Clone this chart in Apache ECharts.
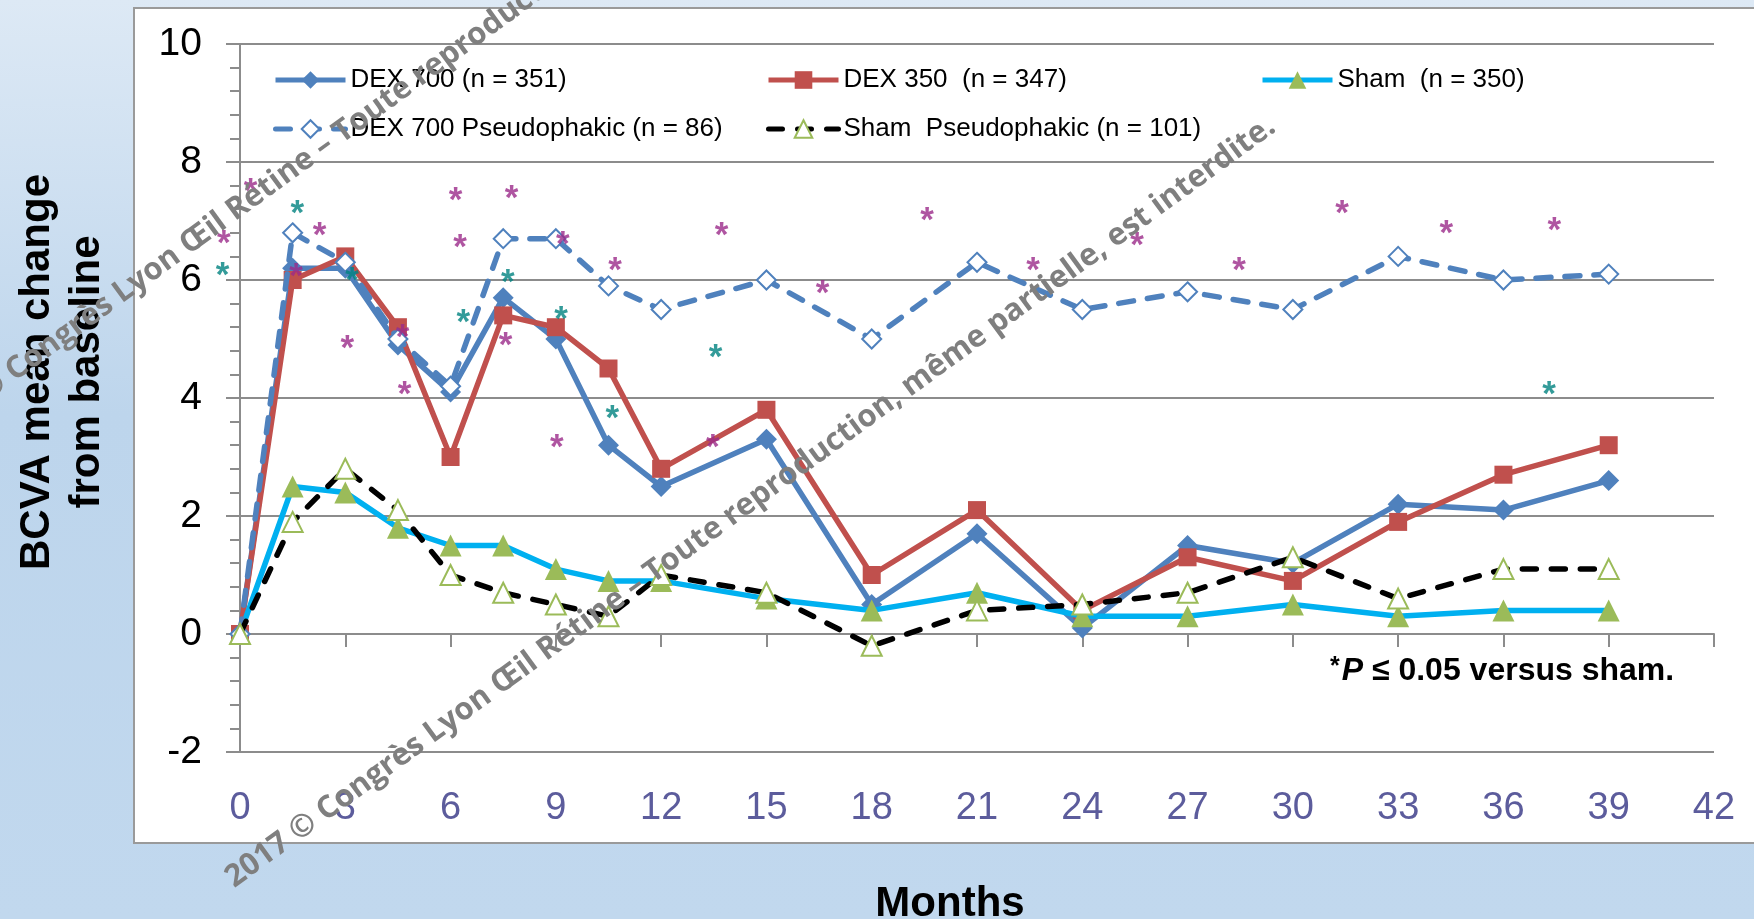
<!DOCTYPE html>
<html>
<head>
<meta charset="utf-8">
<script src="https://cdn.jsdelivr.net/npm/echarts@6/dist/echarts.min.js"></script>
<style>
html,body{margin:0;padding:0;}
#chart{width:1754px;height:919px;}
</style>
</head>
<body>
<div id="chart"></div>
<script>
// ---- data ----
const months = [0, 1.5, 3, 4.5, 6, 7.5, 9, 10.5, 12, 15, 18, 21, 24, 27, 30, 33, 36, 39];
const dex700 = [0, 6.2, 6.2, 4.9, 4.1, 5.7, 5.0, 3.2, 2.5, 3.3, 0.5, 1.7, 0.1, 1.5, 1.2, 2.2, 2.1, 2.6];
const dex350 = [0, 6.0, 6.4, 5.2, 3.0, 5.4, 5.2, 4.5, 2.8, 3.8, 1.0, 2.1, 0.4, 1.3, 0.9, 1.9, 2.7, 3.2];
const sham = [0, 2.5, 2.4, 1.8, 1.5, 1.5, 1.1, 0.9, 0.9, 0.6, 0.4, 0.7, 0.3, 0.3, 0.5, 0.3, 0.4, 0.4];
const dex700Pseudo = [0, 6.8, 6.3, 5.0, 4.2, 6.7, 6.7, 5.9, 5.5, 6.0, 5.0, 6.3, 5.5, 5.8, 5.5, 6.4, 6.0, 6.1];
const shamPseudo = [0, 1.9, 2.8, 2.1, 1.0, 0.7, 0.5, 0.3, 1.0, 0.7, -0.2, 0.4, 0.5, 0.7, 1.3, 0.6, 1.1, 1.1];
const starsMagenta = [[-0.46, 6.71], [0.3, 7.58], [1.6, 6.14], [2.27, 6.85], [3.06, 4.93], [4.63, 5.12], [4.69, 4.14],
  [6.14, 7.44], [6.27, 6.63], [7.74, 7.47], [7.57, 4.98], [9.2, 6.69], [9.03, 3.25], [10.69, 6.24], [13.72, 6.85],
  [13.47, 3.25], [16.6, 5.86], [19.58, 7.1], [22.6, 6.24], [25.56, 6.68], [28.47, 6.24], [31.4, 7.22], [34.37, 6.88], [37.45, 6.92]];
const starsTeal = [[-0.5, 6.17], [1.63, 7.22], [3.19, 6.08], [6.36, 5.36], [7.63, 6.05], [9.15, 5.41], [10.61, 3.74], [13.55, 4.78], [37.3, 4.15]];
const seriesNames = ['DEX 700 (n = 351)', 'DEX 350  (n = 347)', 'Sham  (n = 350)', 'DEX 700 Pseudophakic (n = 86)', 'Sham  Pseudophakic (n = 101)'];
const yTitle = 'BCVA mean change\nfrom baseline';
const xTitle = 'Months';
const footnote = ['*', 'P', ' ≤ 0.05 versus sham.'];
const watermark = '2017 © Congrès Lyon Œil Rétine – Toute reproduction, même partielle, est interdite.';

const pair = arr => months.map((m, i) => [m, arr[i]]);
const FONT = '"Liberation Sans", Arial, sans-serif';
const GRAY = '#8c8c8c';

const chart = echarts.init(document.getElementById('chart'), null, {renderer: 'canvas'});

function legendAt(name, left, top) {
  return {
    data: [name], left: left, top: top, padding: 0, itemWidth: 70, itemHeight: 22,
    selectedMode: false,
    lineStyle: {width: 5, color: 'inherit', type: 'inherit'},
    textStyle: {fontSize: 26, color: '#000', fontFamily: FONT, padding: [0, 0, 0, 0]}
  };
}

const starLabel = (color) => ({
  show: true, formatter: '*', position: 'inside', color: color,
  fontSize: 35, fontWeight: 'bold', fontFamily: FONT, offset: [0, 6]
});

const option = {
  backgroundColor: {
    type: 'linear', x: 0, y: 0, x2: 0, y2: 1,
    colorStops: [{offset: 0, color: '#dde9f5'}, {offset: 0.45, color: '#bdd5ec'}, {offset: 1, color: '#c1d8ee'}]
  },
  animation: false,
  grid: {left: 240, right: 40, top: 44, bottom: 167, containLabel: false},
  legend: [
    legendAt(seriesNames[0], 273, 67),
    legendAt(seriesNames[1], 766, 67),
    legendAt(seriesNames[2], 1260, 67),
    legendAt(seriesNames[3], 273, 116),
    legendAt(seriesNames[4], 766, 116)
  ],
  xAxis: [
    {
      type: 'value', min: 0, max: 42, interval: 3,
      axisLine: {show: true, onZero: true, lineStyle: {color: GRAY, width: 2}},
      axisTick: {show: true, inside: false, length: 13, lineStyle: {color: GRAY, width: 2}},
      axisLabel: {show: false},
      splitLine: {show: false}
    },
    {
      type: 'value', min: 0, max: 42, interval: 3, position: 'bottom',
      axisLine: {show: false, onZero: false},
      axisTick: {show: false},
      splitLine: {show: false},
      axisLabel: {show: true, showMinLabel: true, showMaxLabel: true, color: '#5c5c9c', fontSize: 38, fontFamily: FONT, margin: 38}
    }
  ],
  yAxis: {
    type: 'value', min: -2, max: 10, interval: 2,
    axisLine: {show: true, lineStyle: {color: GRAY, width: 2}},
    axisTick: {show: true, inside: false, length: 14, lineStyle: {color: GRAY, width: 2}},
    minorTick: {show: true, splitNumber: 5, length: 10, lineStyle: {color: GRAY, width: 2}},
    splitLine: {show: true, lineStyle: {color: GRAY, width: 2}},
    axisLabel: {color: '#000', fontSize: 39, fontFamily: FONT, margin: 38, showMinLabel: true, showMaxLabel: true}
  },
  series: [
    {
      name: seriesNames[0], type: 'line', data: pair(dex700), symbol: 'diamond', symbolSize: 21,
      itemStyle: {color: '#4f81bd'}, lineStyle: {color: '#4f81bd', width: 5.5}, z: 3
    },
    {
      name: seriesNames[1], type: 'line', data: pair(dex350), symbol: 'rect', symbolSize: 18,
      itemStyle: {color: '#c0504d'}, lineStyle: {color: '#c0504d', width: 5.5}, z: 4
    },
    {
      name: seriesNames[2], type: 'line', data: pair(sham), symbol: 'triangle', symbolSize: 22,
      itemStyle: {color: '#9bbb59'}, lineStyle: {color: '#00b0f0', width: 5.5}, z: 5
    },
    {
      name: seriesNames[3], type: 'line', data: pair(dex700Pseudo), symbol: 'diamond', symbolSize: 19,
      itemStyle: {color: '#ffffff', borderColor: '#4f81bd', borderWidth: 2},
      lineStyle: {color: '#4f81bd', width: 5.5, type: [15, 14], cap: 'round'}, z: 6
    },
    {
      name: seriesNames[4], type: 'line', data: pair(shamPseudo), symbol: 'triangle', symbolSize: 20,
      itemStyle: {color: '#ffffff', borderColor: '#9bbb59', borderWidth: 2},
      lineStyle: {color: '#000000', width: 5.5, type: [14, 15], cap: 'round'}, z: 7
    },
    {
      name: 'sigMagenta', type: 'scatter', data: starsMagenta, symbolSize: 1, clip: false,
      itemStyle: {color: 'rgba(0,0,0,0)'}, label: starLabel('#9b2a8a'), z: 8
    },
    {
      name: 'sigTeal', type: 'scatter', data: starsTeal, symbolSize: 1, clip: false,
      itemStyle: {color: 'rgba(0,0,0,0)'}, label: starLabel('#00827f'), z: 8
    }
  ],
  graphic: [
    {
      type: 'rect', z: -10, silent: true,
      shape: {x: 134, y: 8, width: 1640, height: 835},
      style: {fill: '#ffffff', stroke: '#9a9a9a', lineWidth: 2}
    },
    {
      type: 'text', x: 62, y: 372, rotation: Math.PI / 2, z: 10,
      style: {text: yTitle, fill: '#000', font: 'bold 42px ' + FONT, textAlign: 'center', textVerticalAlign: 'middle', lineHeight: 50}
    },
    {
      type: 'text', x: 950, y: 904, z: 10,
      style: {text: xTitle, fill: '#000', font: 'bold 42px ' + FONT, textAlign: 'center', textVerticalAlign: 'middle'}
    },
    {
      type: 'text', x: 1330, y: 671, z: 10,
      style: {
        text: '{a|' + footnote[0] + '}{b|' + footnote[1] + '}{c|' + footnote[2] + '}',
        textVerticalAlign: 'middle',
        rich: {
          a: {font: 'bold 25px ' + FONT, fill: '#000', verticalAlign: 'top', padding: [0, 2, 8, 0]},
          b: {font: 'italic bold 32px ' + FONT, fill: '#000'},
          c: {font: 'bold 32px ' + FONT, fill: '#000'}
        }
      }
    },
    {
      type: 'text', x: -82, y: 441, rotation: 36 * Math.PI / 180, z: 100, silent: true,
      style: {text: watermark, fill: '#7f7f7f', font: 'bold 31px "Open Sans", sans-serif', textAlign: 'left', textVerticalAlign: 'middle'}
    },
    {
      type: 'text', x: 229, y: 881, rotation: 36 * Math.PI / 180, z: 100, silent: true,
      style: {text: watermark, fill: '#7f7f7f', font: 'bold 31px "Open Sans", sans-serif', textAlign: 'left', textVerticalAlign: 'middle'}
    }
  ]
};
chart.setOption(option);
</script>
</body>
</html>
